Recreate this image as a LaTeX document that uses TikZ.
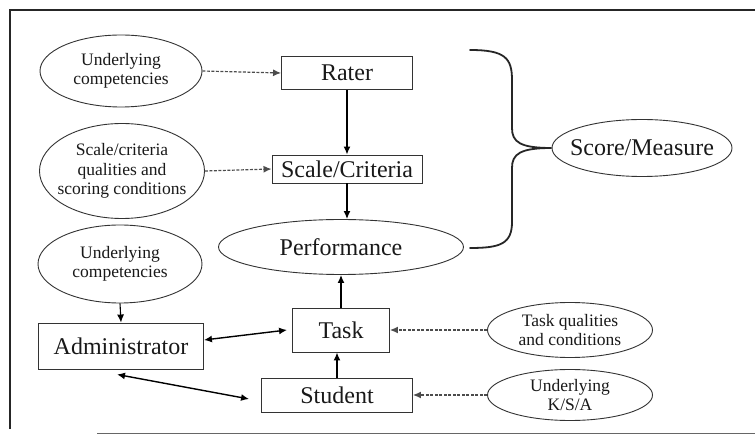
\documentclass[tikz,border=0pt]{standalone}
\usepackage{fontspec}
\setmainfont{Liberation Serif}
\usetikzlibrary{shapes.geometric,arrows.meta}
\begin{document}
\begin{tikzpicture}[x=1pt,y=-1pt,
  box/.style={draw=black!80,line width=0.9pt,rectangle,inner sep=0pt,font=\rmfamily\fontsize{24}{28}\selectfont,text=black!90},
  ell/.style={draw=black!80,line width=0.9pt,ellipse,inner xsep=-20pt,inner ysep=-6pt,align=center,font=\rmfamily\fontsize{17.5}{19.5}\selectfont,text=black!90},
  bigell/.style={ell,font=\rmfamily\fontsize{24}{28}\selectfont},
  solidarr/.style={line width=1.4pt,-{Latex[length=8pt,width=7pt]}},
  dblarr/.style={line width=1.4pt,{Latex[length=8pt,width=7pt]}-{Latex[length=8pt,width=7pt]}},
  dasharr/.style={line width=1.2pt,draw=black!70,dash pattern=on 3pt off 1.5pt,-{Latex[length=8pt,width=7pt]}}
]
\useasboundingbox (0,0) rectangle (755,435);
% frame
\draw[line width=2pt,black!85] (10,429) -- (10,10) -- (755,10);
\draw[line width=1pt,black!60] (97,433) -- (755,433);

% nodes
\node[ell,minimum width=162pt,minimum height=72pt] (u1) at (121,71) {Underlying\\competencies};
\node[box,minimum width=131pt,minimum height=33pt] (rater) at (347,73) {Rater};
\node[ell,minimum width=165pt,minimum height=95pt] (u2) at (122,171) {Scale/criteria\\qualities and\\scoring conditions};
\node[box,minimum width=150pt,minimum height=28pt] (scale) at (347,169) {Scale/Criteria};
\node[bigell,minimum width=245pt,minimum height=55pt] (perf) at (341,247) {Performance};
\node[ell,minimum width=164pt,minimum height=78pt] (u3) at (120,264) {Underlying\\competencies};
\node[box,minimum width=165pt,minimum height=46pt] (admin) at (121,346) {Administrator};
\node[box,minimum width=97pt,minimum height=44pt] (task) at (341,330) {Task};
\node[box,minimum width=151pt,minimum height=34pt] (student) at (337,395) {Student};
\node[ell,minimum width=165pt,minimum height=55pt] (tq) at (570,330) {Task qualities\\and conditions};
\node[ell,minimum width=165pt,minimum height=51pt] (ksa) at (570,395) {Underlying\\K/S/A};
\node[bigell,minimum width=180pt,minimum height=57pt] (score) at (642,148) {Score/Measure};

% brace
\draw[line width=1.8pt,black!85,line cap=round]
  (470,50) .. controls (505,50) and (512,58) .. (512,80)
  -- (512,128) .. controls (512,142) and (520,148) .. (score.west)
  .. controls (520,148) and (512,154) .. (512,168)
  -- (512,222) .. controls (512,244) and (500,248) .. (470,248);

% connectors
\draw[dasharr] (u1.east) -- (rater.west);
\draw[dasharr] (u2.east) -- (scale.west);
\draw[dasharr] (tq.west) -- (task.east);
\draw[dasharr] (ksa.west) -- (student.east);
\draw[solidarr] (rater.south) -- (scale.north);
\draw[solidarr] (scale.south) -- (scale.south |- perf.north);
\draw[solidarr] (task.north) -- (perf.south);
\draw[solidarr] (student.north) -- (student.north |- task.south);
\draw[solidarr,line width=1.1pt] (u3.south) -- (admin.north);
\draw[dblarr] ([yshift=6pt]admin.east) -- ([xshift=-5pt]task.west);
\draw[dblarr] ([xshift=-4pt,yshift=-5pt]admin.south) -- ([xshift=-12pt,yshift=-4pt]student.west);
\end{tikzpicture}
\end{document}
